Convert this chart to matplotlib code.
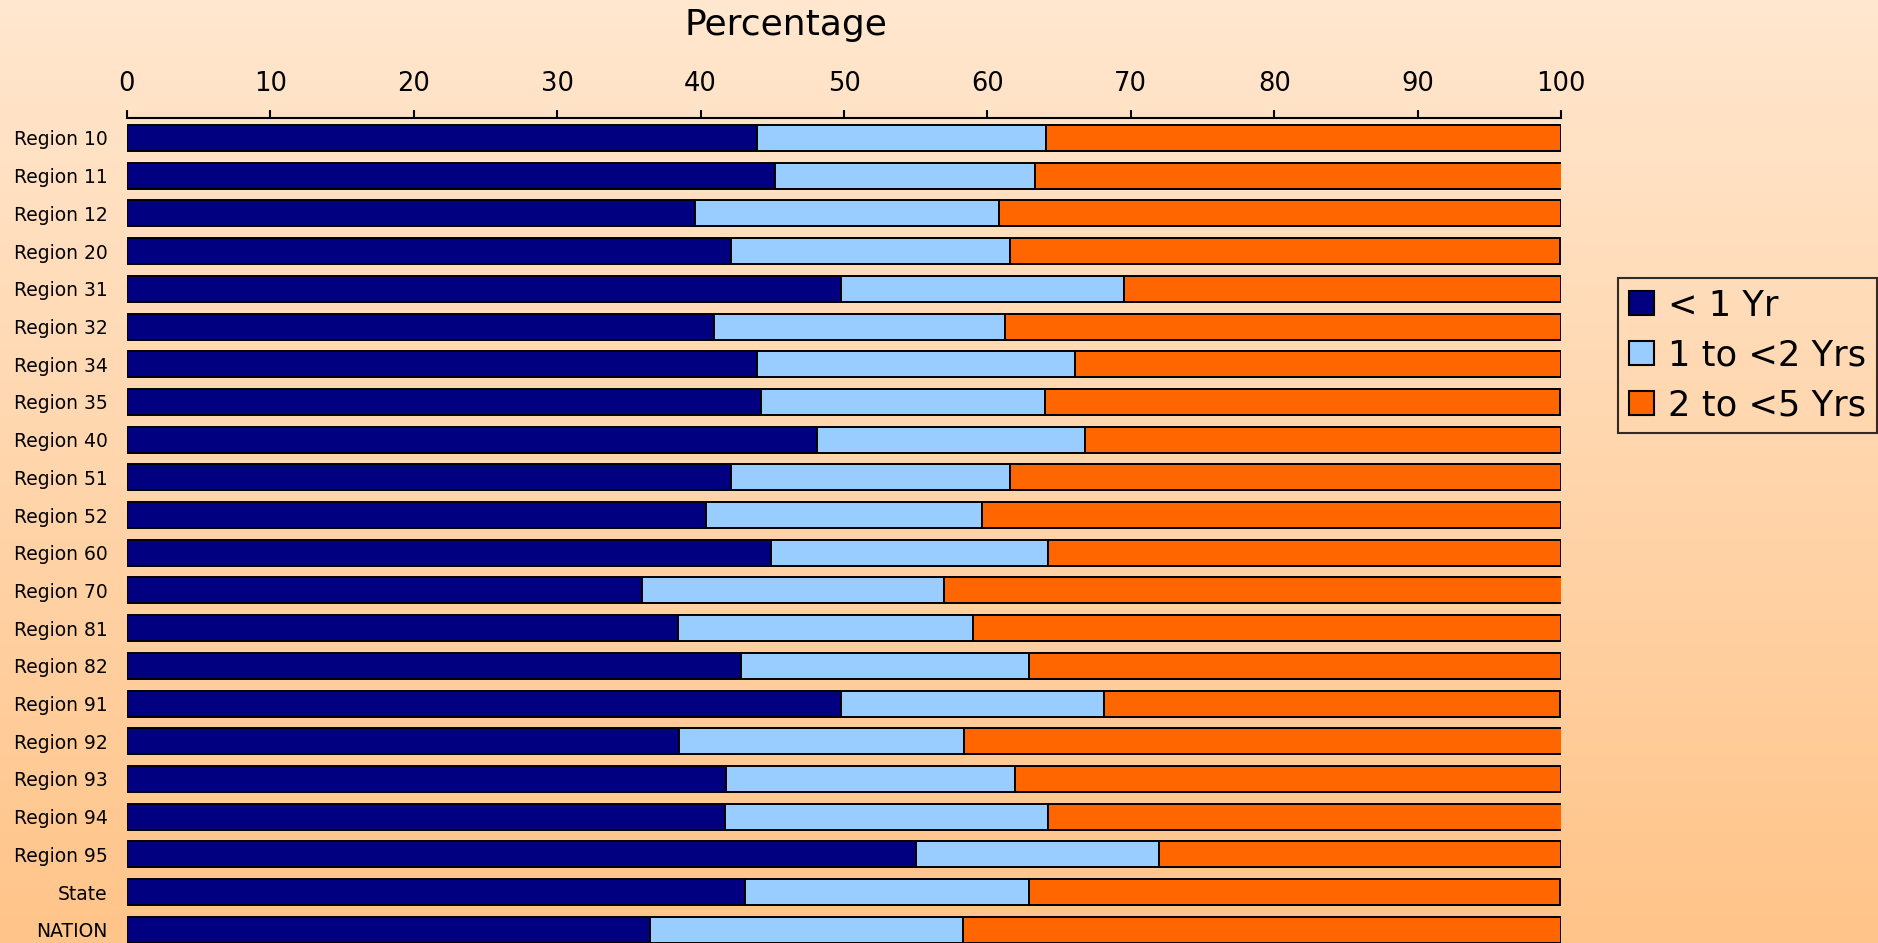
import matplotlib
matplotlib.use('Agg')
import matplotlib.pyplot as plt
import numpy as np
from matplotlib.patches import Patch

# fonte mais larga, o texto do original é "esticado"
plt.rcParams['font.family'] = ['DejaVu Sans']

regioes = ['Region 10', 'Region 11', 'Region 12', 'Region 20', 'Region 31',
           'Region 32', 'Region 34', 'Region 35', 'Region 40', 'Region 51',
           'Region 52', 'Region 60', 'Region 70', 'Region 81', 'Region 82',
           'Region 91', 'Region 92', 'Region 93', 'Region 94', 'Region 95',
           'State', 'NATION']
menos_1 = [43.9, 45.2, 39.6, 42.1, 49.8, 40.9, 43.9, 44.2, 48.1, 42.1, 40.4,
           44.9, 35.9, 38.4, 42.8, 49.8, 38.5, 41.8, 41.7, 55.0, 43.1, 36.5]
de_1_a_2 = [20.2, 18.1, 21.2, 19.5, 19.7, 20.3, 22.2, 19.8, 18.7, 19.5, 19.2,
            19.3, 21.1, 20.6, 20.1, 18.3, 19.9, 20.1, 22.5, 17.0, 19.8, 21.8]
de_2_a_5 = [35.9, 36.9, 39.2, 38.3, 30.5, 38.8, 33.9, 35.9, 33.2, 38.4, 40.4,
            35.8, 43.1, 41.0, 37.1, 31.8, 41.7, 38.1, 36.0, 28.0, 37.0, 41.7]
series = ['< 1 Yr', '1 to <2 Yrs', '2 to <5 Yrs']
cores = ['#000080', '#99CCFF', '#FF6600']
ticks_x = list(range(0, 101, 10))

fig = plt.figure(figsize=(18.78, 9.43), dpi=100)

# fundo em degradê
bg = fig.add_axes([0, 0, 1, 1], zorder=-1)
grad = np.linspace(0, 1, 256).reshape(-1, 1)
c1 = np.array([255, 231, 207]) / 255
c2 = np.array([255, 196, 137]) / 255
img = c1 + grad[..., None] * (c2 - c1)
bg.imshow(img, aspect='auto', extent=[0, 1, 0, 1])
bg.axis('off')

ax = fig.add_axes([127 / 1878, 0, 1434 / 1878, 825 / 943])
ax.set_facecolor('none')

y = np.arange(len(regioes))
a = np.array(menos_1)
b = np.array(de_1_a_2)
c = np.array(de_2_a_5)
ax.barh(y, a, height=0.69, color=cores[0], edgecolor='black', linewidth=1.4)
ax.barh(y, b, left=a, height=0.69, color=cores[1], edgecolor='black', linewidth=1.4)
ax.barh(y, c, left=a + b, height=0.69, color=cores[2], edgecolor='black', linewidth=1.4)

ax.set_xlim(0, 100)
ax.set_ylim(21.35, -0.53)
ax.xaxis.tick_top()
ax.set_xticks(ticks_x)
ax.tick_params(axis='x', length=6, width=1.5, pad=9, labelsize=18.5)
ax.set_yticks(y)
ax.set_yticklabels(regioes)
ax.tick_params(axis='y', length=0, pad=14, labelsize=13.5)
for s in ['left', 'right', 'bottom']:
    ax.spines[s].set_visible(False)
ax.spines['top'].set_linewidth(1.5)

fig.text(0.4183, 1 - 35 / 943, 'Percentage', ha='center', va='baseline', fontsize=26)

handles = [Patch(facecolor=cores[i], edgecolor='black', linewidth=1.5, label=series[i])
           for i in range(3)]
leg = fig.legend(handles=handles, loc='upper left',
                 bbox_to_anchor=(1618 / 1878, 1 - 278 / 943), fontsize=25.4,
                 frameon=True, fancybox=False, borderaxespad=0, borderpad=0.3,
                 labelspacing=0.45, handlelength=0.71, handleheight=0.65,
                 handletextpad=0.42)
leg.get_frame().set_edgecolor('black')
leg.get_frame().set_facecolor('none')
leg.get_frame().set_linewidth(1.5)

plt.savefig('out.png', dpi=100)
